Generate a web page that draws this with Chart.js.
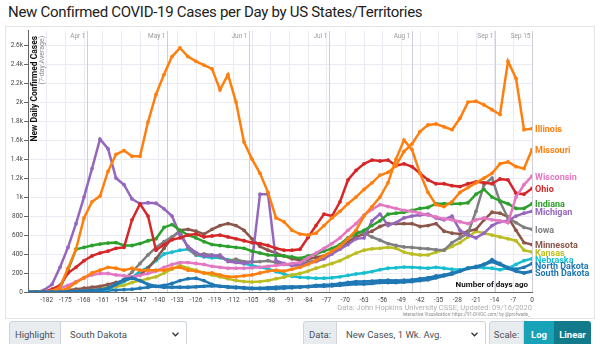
<!DOCTYPE html>
<html><head><meta charset="utf-8">
<script src="https://cdn.jsdelivr.net/npm/chart.js@4.4.1/dist/chart.umd.min.js"></script>
<style>
body{margin:0;width:600px;height:344px;overflow:hidden;background:#fff;font-family:Roboto,"Liberation Sans",sans-serif;position:relative}
#title{position:absolute;left:8px;top:3px;font-size:15px;color:#222;white-space:nowrap;letter-spacing:-0.3px}
#box{position:absolute;left:5px;top:26px;width:590px;height:293px;border:1px solid #e4e4e4;box-sizing:border-box}
#wrap{position:absolute;left:0;top:26px;width:592px;height:292px}
.grp{position:absolute;top:321px;height:26px;display:flex;font-size:9.5px;color:#495057}
.lab{background:#e9ecef;border:1px solid #ced4da;border-radius:3px 0 0 3px;display:flex;align-items:center;justify-content:center;box-sizing:border-box}
.sel{background:#fff;border:1px solid #ced4da;border-left:none;border-radius:0 3px 3px 0;display:flex;align-items:center;padding-left:9px;box-sizing:border-box;position:relative}
.sel svg{position:absolute;right:7px;top:10px}
.btn{display:flex;align-items:center;justify-content:center;color:#fff;font-weight:bold;box-sizing:border-box}
</style></head>
<body>
<div id="title">New Confirmed COVID-19 Cases per Day by US States/Territories</div>
<div id="box"></div>
<div id="wrap"><canvas id="c"></canvas></div>
<div class="grp" style="left:9px;width:178px">
  <div class="lab" style="width:52px">Highlight:</div>
  <div class="sel" style="width:126px">South Dakota<svg width="7" height="5" viewBox="0 0 7 5"><path d="M0.5 0.8 L3.5 3.8 L6.5 0.8" stroke="#333" stroke-width="1.3" fill="none"/></svg></div>
</div>
<div class="grp" style="left:303px;width:183px">
  <div class="lab" style="width:34px">Data:</div>
  <div class="sel" style="width:149px">New Cases, 1 Wk. Avg.<svg width="7" height="5" viewBox="0 0 7 5"><path d="M0.5 0.8 L3.5 3.8 L6.5 0.8" stroke="#333" stroke-width="1.3" fill="none"/></svg></div>
</div>
<div class="grp" style="left:489px;width:102px">
  <div class="lab" style="width:35px">Scale:</div>
  <div class="btn" style="width:30px;background:#17a2b8">Log</div>
  <div class="btn" style="width:37px;background:#117a8b;border-radius:0 3px 3px 0">Linear</div>
</div>
<script>
// ---- data (days relative to 09/15/2020, 7-day average of new cases) ----
const days = [-189,-186,-183,-180,-177,-174,-171,-168,-165,-162,-159,-156,-153,-150,-147,-144,-141,-138,-135,-132,-129,-126,-123,-120,-117,-114,-111,-108,-105,-102,-99,-96,-93,-90,-87,-84,-81,-78,-75,-72,-69,-66,-63,-60,-57,-54,-51,-48,-45,-42,-39,-36,-33,-30,-27,-24,-21,-18,-15,-12,-9,-6,-3,0];
const xTickValues = [-182,-175,-168,-161,-154,-147,-140,-133,-126,-119,-112,-105,-98,-91,-84,-77,-70,-63,-56,-49,-42,-35,-28,-21,-14,-7,0];
const yTickValues = [0,200,400,600,800,1000,1200,1400,1600,1800,2000,2200,2400,2600];
const monthDays = [-167,-137,-106,-76,-45,-14,0];
const monthLabels = ['Apr 1','May 1','Jun 1','Jul 1','Aug 1','Sep 1','Sep 15'];

const illinois = [0,0,0,10,50,250,450,780,950,1010,1270,1450,1490,1430,1430,1790,2080,2290,2480,2570,2480,2430,2390,2350,2130,2290,2000,1580,1400,1250,1050,780,740,650,610,600,620,700,780,850,930,1000,1080,1150,1230,1260,1330,1480,1560,1690,1760,1770,1740,1710,1830,2000,2010,1970,1920,1870,2430,2250,1710,1720];
const missouri = [0,0,0,0,10,40,100,150,200,230,260,250,230,250,230,230,230,230,250,260,230,220,200,200,180,160,160,170,180,200,220,230,220,240,260,290,330,380,430,480,560,650,800,900,1000,1150,1400,1600,1500,1250,1050,920,900,950,1050,1100,1150,1200,1250,1350,1370,1320,1300,1500];
const wisconsin = [0,0,0,10,40,70,110,150,180,195,195,180,170,160,175,195,220,260,290,310,310,300,290,270,260,250,250,250,255,260,270,280,290,300,310,360,410,460,510,570,650,720,810,870,920,900,880,860,850,830,810,790,770,760,740,720,760,780,760,750,730,1000,1130,1220];
const ohio = [0,0,0,30,70,200,260,330,380,410,430,460,470,760,928,800,440,500,550,570,600,610,580,590,600,580,560,540,520,510,490,460,440,440,450,574,700,820,800,950,1180,1280,1350,1390,1380,1390,1330,1350,1320,1250,1180,1140,1140,1120,1110,1140,1160,1150,1140,1190,1180,1040,1030,1090];
const indiana = [0,0,0,10,40,230,450,470,490,505,515,520,490,490,510,540,560,680,710,650,600,570,530,500,490,480,470,460,430,410,390,385,380,370,355,380,400,430,460,500,570,610,650,700,750,820,830,840,860,880,890,930,930,930,930,940,1030,1080,1000,960,930,880,880,930];
const michigan = [0,0,20,80,260,470,720,1000,1300,1610,1510,1200,1130,980,930,940,935,876,800,600,480,415,380,380,390,320,310,300,320,1030,1030,330,300,280,280,300,320,350,400,450,500,560,570,750,820,700,730,780,800,810,820,780,760,800,650,600,570,620,700,740,750,800,830,850];
const iowa = [0,0,0,0,0,5,10,15,20,30,40,80,130,210,300,390,470,530,580,640,460,390,400,390,370,330,345,320,315,320,330,310,290,290,300,315,330,380,420,460,560,640,620,580,545,510,490,475,470,460,455,445,440,520,570,620,850,1130,1200,950,780,730,680,660];
const minnesota = [0,0,0,5,10,20,30,40,50,60,80,100,120,150,180,250,350,460,570,650,660,640,610,660,700,720,700,650,560,480,440,410,380,350,335,345,365,380,420,470,530,580,610,640,690,720,720,720,720,690,700,720,640,620,610,640,660,760,840,830,790,650,520,500];
const kansas = [0,0,0,0,5,10,20,30,40,45,50,55,70,100,120,140,160,200,240,280,250,230,200,180,160,140,120,110,105,110,120,140,155,180,195,220,250,275,300,330,370,410,440,455,460,470,460,420,400,390,390,420,440,480,520,580,640,620,600,580,560,540,440,420];
const nebraska = [0,0,0,0,0,0,5,10,15,20,30,60,110,150,220,260,330,400,420,440,450,390,370,360,360,340,330,300,280,260,245,215,190,165,155,150,145,145,150,160,175,190,200,215,235,250,255,262,260,255,250,260,250,240,235,250,260,255,250,235,250,290,330,350];
const northDakota = [0,0,0,0,0,2,5,8,10,12,15,20,25,30,40,50,60,70,90,120,140,145,120,80,60,50,45,40,35,35,35,35,40,45,50,60,70,75,80,90,100,110,110,115,120,125,120,125,130,140,150,170,180,200,220,250,270,290,340,300,260,240,260,300];
const southDakota = [0,0,0,0,0,2,5,10,15,20,40,80,130,146,120,80,60,50,50,50,50,55,60,65,60,55,50,45,40,40,45,50,55,55,55,55,60,60,65,70,80,85,85,90,100,100,100,105,110,120,130,150,170,190,220,250,260,290,320,290,250,220,200,220];

const seriesNames = ['Illinois','Missouri','Wisconsin','Ohio','Indiana','Michigan','Iowa','Minnesota','Kansas','Nebraska','North Dakota','South Dakota'];
const seriesValues = [illinois,missouri,wisconsin,ohio,indiana,michigan,iowa,minnesota,kansas,nebraska,northDakota,southDakota];
const seriesColors = ['#ff7f0e','#ff7f0e','#e377c2','#d62728','#2ca02c','#9467bd','#7f7f7f','#8c564b','#bcbd22','#17becf','#1f77b4','#1f77b4'];
const highlighted = 'South Dakota';

const datasets = seriesNames.map((n,i)=>({
  label:n,
  data: days.map((d,j)=>({x:d,y:seriesValues[i][j]})),
  borderColor: seriesColors[i], backgroundColor: seriesColors[i],
  borderWidth: n===highlighted?3:2.5, pointRadius: 1.9, pointHoverRadius:0, pointBorderWidth:0,
  tension:0, order: n===highlighted?0:1
}));

const F = 'Roboto, "Liberation Sans", sans-serif';
const overlay = {
  id:'overlay',
  beforeDatasetsDraw(chart){
    const {ctx, chartArea:a, scales:{x}} = chart;
    ctx.save();
    ctx.strokeStyle='#cfcdd8'; ctx.lineWidth=1;
    monthDays.forEach((d,i)=>{
      const px=Math.round(x.getPixelForValue(d))+0.5;
      ctx.beginPath(); ctx.moveTo(px,a.top); ctx.lineTo(px,a.bottom); ctx.stroke();
      ctx.fillStyle='#9a9a9a'; ctx.font='6.5px '+F; ctx.textAlign='right'; ctx.textBaseline='top';
      ctx.fillText(monthLabels[i], px-2, a.top+2);
    });
    ctx.restore();
  },
  afterDatasetsDraw(chart){
    const {ctx, chartArea:a} = chart;
    ctx.save();
    const labs = chart.data.datasets.map((ds,i)=>{
      const m=chart.getDatasetMeta(i); const p=m.data[m.data.length-1];
      return {t:ds.label,c:ds.borderColor,y:p.y+1.5};
    }).sort((p,q)=>p.y-q.y);
    for(let i=1;i<labs.length;i++){ if(labs[i].y<labs[i-1].y+6.5) labs[i].y=labs[i-1].y+6.5; }
    ctx.font='bold 9px '+F; ctx.textAlign='left'; ctx.textBaseline='middle';
    labs.forEach(l=>{ctx.fillStyle=l.c; ctx.fillText(l.t, a.right+3, l.y);});
    ctx.save();
    ctx.translate(a.left+7, a.top+5); ctx.rotate(-Math.PI/2);
    ctx.textAlign='right'; ctx.textBaseline='middle';
    ctx.fillStyle='#111'; ctx.font='bold 8.5px '+F; ctx.fillText('New Daily Confirmed Cases',0,0);
    ctx.fillStyle='#8a8a8a'; ctx.font='7px '+F; ctx.fillText('(7-day Average)',0,7.5);
    ctx.restore();
    ctx.fillStyle='#111'; ctx.font='bold 8px '+F; ctx.textAlign='right'; ctx.textBaseline='alphabetic';
    ctx.fillText('Number of days ago', a.right-4, a.bottom-5);
    ctx.fillStyle='#b0b0b0'; ctx.font='7.5px '+F;
    ctx.fillText('Data: John Hopkins University CSSE; Updated: 09/16/2020', a.right, a.bottom+18);
    ctx.fillStyle='#8a8a8a'; ctx.font='4.5px '+F;
    ctx.fillText('Interactive Visualization: https://91-DIVOC.com/ by @profwade_', a.right-2, a.bottom+24);
    ctx.restore();
  }
};

new Chart(document.getElementById('c'), {
  type:'line',
  data:{datasets},
  options:{
    responsive:true, maintainAspectRatio:false, animation:false,
    layout:{padding:{left:0,right:60,top:2,bottom:0}},
    plugins:{legend:{display:false}, tooltip:{enabled:false}},
    scales:{
      x:{type:'linear', min:-189, max:0,
        afterBuildTicks(s){ s.ticks = xTickValues.map(v=>({value:v})); },
        afterFit(s){ s.height=26; },
        grid:{color:'#ebe9f1', drawTicks:false},
        border:{color:'#666'},
        ticks:{font:{size:6.5,family:F}, color:'#444', padding:4, maxRotation:0, autoSkip:false}
      },
      y:{min:0, max:2750,
        afterBuildTicks(s){ s.ticks = yTickValues.map(v=>({value:v})); },
        afterFit(s){ s.width=28; },
        grid:{color:'#ebe9f1', tickLength:4, tickColor:'#666'},
        border:{color:'#666'},
        ticks:{font:{size:6.5,family:F}, color:'#444', padding:1,
          callback:v=> v>=1000 ? (v/1000)+'k' : String(v)}
      }
    }
  },
  plugins:[overlay]
});
</script>
</body></html>
